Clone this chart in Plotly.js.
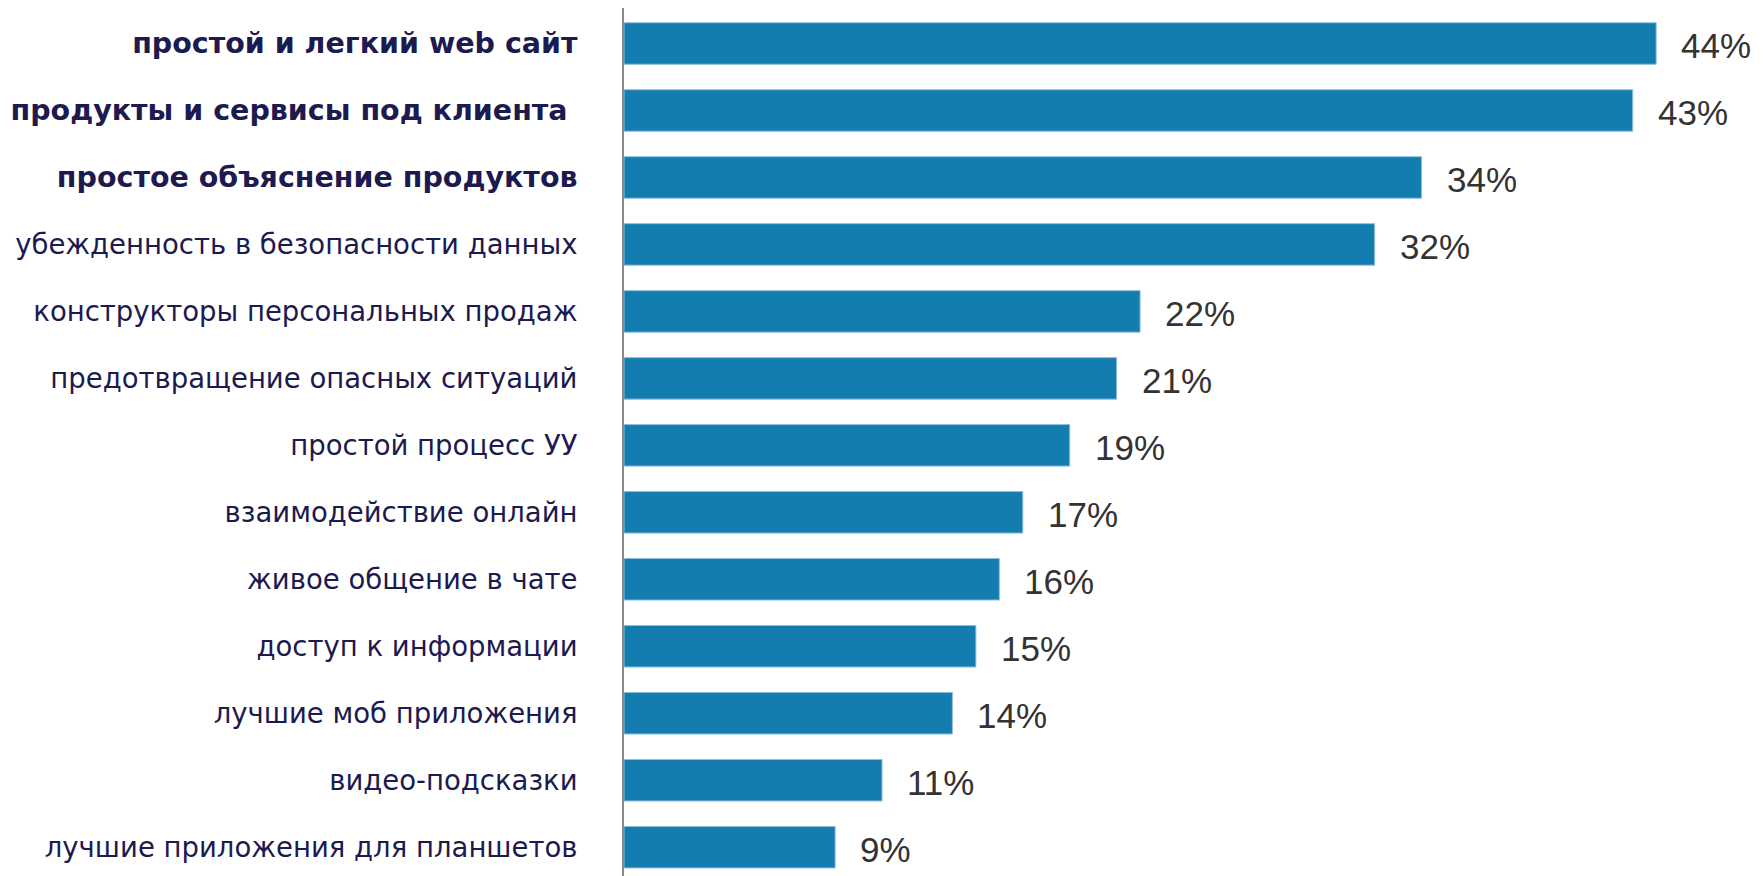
<!DOCTYPE html>
<html>
<head>
<meta charset="utf-8">
<script src="https://cdn.plot.ly/plotly-3.0.1.min.js"></script>
<style>
html,body{margin:0;padding:0;background:#fff;}
#chart{width:1763px;height:876px;}
</style>
</head>
<body>
<div id="chart"></div>
<script>
const categories = [
  "простой и легкий web сайт",
  "продукты и сервисы под клиента",
  "простое объяснение продуктов",
  "убежденность в безопасности данных",
  "конструкторы персональных продаж",
  "предотвращение опасных ситуаций",
  "простой процесс УУ",
  "взаимодействие онлайн",
  "живое общение в чате",
  "доступ к информации",
  "лучшие моб приложения",
  "видео-подсказки",
  "лучшие приложения для планшетов"
];
const values = [44, 43, 34, 32, 22, 21, 19, 17, 16, 15, 14, 11, 9];
const boldCount = 3;
const tickLabels = categories.map((c, i) => i < boldCount
  ? '<span style="font-size:28.5px"><b>' + c + (i === 1 ? '&nbsp;' : '') + '</b></span>'
  : c);
const valueLabels = values.map(v => v + "%");

const trace = {
  type: "bar",
  orientation: "h",
  y: categories,
  x: values,
  marker: {color: "#147db0", line: {color: "#8fbfd9", width: 1}},
  width: 0.62,
  hoverinfo: "none"
};

const annotations = values.map((v, i) => ({
  x: v, y: categories[i], xref: "x", yref: "y",
  text: valueLabels[i], showarrow: false,
  xanchor: "left", yanchor: "middle", xshift: 23, yshift: -2,
  font: {family: "Liberation Sans, Arial, sans-serif", size: 35, color: "#333333"}
}));

const layout = {
  width: 1763, height: 876,
  margin: {l: 624, r: 13, t: 8, b: 0},
  paper_bgcolor: "#ffffff",
  plot_bgcolor: "#ffffff",
  showlegend: false,
  bargap: 0.38,
  xaxis: {range: [0, 48], visible: false, fixedrange: true},
  yaxis: {
    type: "category",
    range: [12.43, -0.53],
    tickmode: "array",
    tickvals: categories,
    ticktext: tickLabels,
    ticks: "",
    ticklabelstandoff: 39,
    showline: true,
    linecolor: "#8a8a8a",
    linewidth: 2,
    showgrid: false,
    zeroline: false,
    tickfont: {family: "DejaVu Sans, Verdana, sans-serif", size: 27.5, color: "#1c1a4f"}
  },
  annotations: annotations
};

Plotly.newPlot("chart", [trace], layout, {staticPlot: true, displayModeBar: false});
</script>
</body>
</html>
